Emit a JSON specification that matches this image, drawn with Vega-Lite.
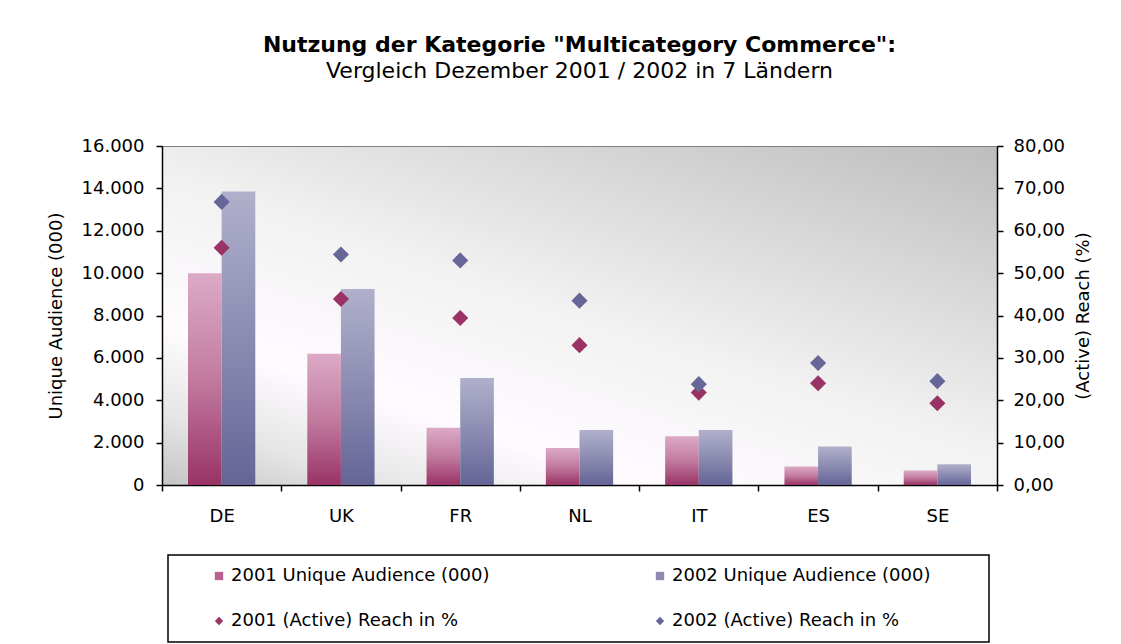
{
  "$schema": "https://vega.github.io/schema/vega-lite/v6.json",
  "autosize": {"type": "none"},
  "padding": {"left": 162, "top": 146, "right": 124, "bottom": 159},
  "width": 835,
  "height": 339,
  "background": "white",
  "title": {
    "text": "Nutzung der Kategorie \"Multicategory Commerce\":",
    "subtitle": "Vergleich Dezember 2001 / 2002 in 7 Ländern",
    "anchor": "middle",
    "frame": "group",
    "offset": 54,
    "font": "DejaVu Sans",
    "fontSize": 22,
    "fontWeight": "bold",
    "color": "#000000",
    "subtitleFont": "DejaVu Sans",
    "subtitleFontSize": 22,
    "subtitleFontWeight": "normal",
    "subtitleColor": "#000000",
    "subtitlePadding": 4
  },
  "config": {
    "locale": {"number": {"decimal": ",", "thousands": ".", "grouping": [3], "currency": ["", " €"]}},
    "view": {
      "stroke": "#808080",
      "strokeWidth": 1,
      "fill": {
        "gradient": "linear",
        "x1": 1, "y1": 0, "x2": 0.114, "y2": 1.093,
        "stops": [
          {"offset": 0, "color": "#bdbdbd"},
          {"offset": 0.25, "color": "#d8d8d8"},
          {"offset": 0.5, "color": "#f2f2f2"},
          {"offset": 0.74, "color": "#fffbff"},
          {"offset": 0.88, "color": "#e6e6e6"},
          {"offset": 1, "color": "#c4c4c4"}
        ]
      }
    },
    "axis": {
      "domainColor": "#000000",
      "domainWidth": 1.5,
      "tickColor": "#000000",
      "tickWidth": 1.5,
      "tickSize": 6,
      "labelColor": "#000000",
      "labelFont": "DejaVu Sans",
      "labelFontSize": 18,
      "titleColor": "#000000",
      "titleFont": "DejaVu Sans",
      "titleFontSize": 18,
      "titleFontWeight": "normal",
      "grid": false
    },
    "legend": {
      "titleOrient": "right",
      "titlePadding": 47,
      "titleFontSize": 18,
      "orient": "none",
      "legendX": 6,
      "legendY": 409,
      "direction": "horizontal",
      "columns": 2,
      "columnPadding": 131,
      "rowPadding": 27,
      "padding": 12,
      "strokeColor": "#000000",
      "strokeWidth": 1.5,
      "fillColor": "#ffffff",
      "labelFont": "DejaVu Sans",
      "labelFontSize": 18,
      "labelColor": "#000000",
      "labelLimit": 500,
      "labelOffset": 3,
      "symbolSize": 70,
      "symbolOffset": 30,
      "symbolStrokeWidth": 0,
      "symbolOpacity": 1
    }
  },
  "data": {
    "values": [
      {"country": "DE", "year": "2001", "audience": 10000, "reach": 56.0, "reachSeries": "2001 (Active) Reach in %"},
      {"country": "DE", "year": "2002", "audience": 13850, "reach": 66.8, "reachSeries": "2002 (Active) Reach in %"},
      {"country": "UK", "year": "2001", "audience": 6200, "reach": 43.9, "reachSeries": "2001 (Active) Reach in %"},
      {"country": "UK", "year": "2002", "audience": 9250, "reach": 54.4, "reachSeries": "2002 (Active) Reach in %"},
      {"country": "FR", "year": "2001", "audience": 2700, "reach": 39.4, "reachSeries": "2001 (Active) Reach in %"},
      {"country": "FR", "year": "2002", "audience": 5050, "reach": 53.0, "reachSeries": "2002 (Active) Reach in %"},
      {"country": "NL", "year": "2001", "audience": 1750, "reach": 33.0, "reachSeries": "2001 (Active) Reach in %"},
      {"country": "NL", "year": "2002", "audience": 2600, "reach": 43.5, "reachSeries": "2002 (Active) Reach in %"},
      {"country": "IT", "year": "2001", "audience": 2300, "reach": 21.8, "reachSeries": "2001 (Active) Reach in %"},
      {"country": "IT", "year": "2002", "audience": 2600, "reach": 23.8, "reachSeries": "2002 (Active) Reach in %"},
      {"country": "ES", "year": "2001", "audience": 870, "reach": 24.0, "reachSeries": "2001 (Active) Reach in %"},
      {"country": "ES", "year": "2002", "audience": 1820, "reach": 28.8, "reachSeries": "2002 (Active) Reach in %"},
      {"country": "SE", "year": "2001", "audience": 680, "reach": 19.3, "reachSeries": "2001 (Active) Reach in %"},
      {"country": "SE", "year": "2002", "audience": 980, "reach": 24.5, "reachSeries": "2002 (Active) Reach in %"}
    ]
  },
  "encoding": {
    "x": {
      "field": "country",
      "type": "nominal",
      "sort": ["DE", "UK", "FR", "NL", "IT", "ES", "SE"],
      "scale": {"paddingInner": 0, "paddingOuter": 0},
      "axis": {"title": null, "labelAngle": 0, "tickBand": "extent", "labelPadding": 16, "tickSize": 6}
    }
  },
  "layer": [
    {
      "mark": {"type": "bar", "opacity": 1},
      "encoding": {
        "xOffset": {"field": "year", "type": "nominal", "scale": {"domain": ["2001", "2002"], "paddingInner": 0, "paddingOuter": 0.773}},
        "y": {
          "field": "audience",
          "type": "quantitative",
          "scale": {"domain": [0, 16000], "nice": false},
          "axis": {"title": "Unique Audience (000)", "values": [0, 2000, 4000, 6000, 8000, 10000, 12000, 14000, 16000], "format": ",d", "labelPadding": 12, "titlePadding": 16}
        },
        "fill": {
          "condition": {
            "test": "datum.year === '2001'",
            "value": {
              "gradient": "linear", "x1": 0, "y1": 0, "x2": 0, "y2": 1,
              "stops": [{"offset": 0, "color": "#dcaac6"}, {"offset": 0.5, "color": "#c27b9f"}, {"offset": 1, "color": "#993366"}]
            }
          },
          "value": {
            "gradient": "linear", "x1": 0, "y1": 0, "x2": 0, "y2": 1,
            "stops": [{"offset": 0, "color": "#b0b0cc"}, {"offset": 0.5, "color": "#8c8cb2"}, {"offset": 1, "color": "#646497"}]
          }
        }
      }
    },
    {
      "mark": {"type": "point", "filled": true, "size": 260, "opacity": 1},
      "encoding": {
        "y": {
          "field": "reach",
          "type": "quantitative",
          "scale": {"domain": [0, 80], "nice": false},
          "axis": {"orient": "right", "title": "(Active) Reach (%)", "titleAngle": 270, "values": [0, 10, 20, 30, 40, 50, 60, 70, 80], "format": ".2f", "labelPadding": 10, "titlePadding": 28}
        },
        "fill": {
          "field": "reachSeries",
          "type": "nominal",
          "scale": {
            "domain": ["2001 Unique Audience (000)", "2002 Unique Audience (000)", "2001 (Active) Reach in %", "2002 (Active) Reach in %"],
            "range": ["#b8628f", "#8a8ab2", "#993366", "#666699"]
          },
          "legend": {"title": "\u00a0"}
        },
        "shape": {
          "field": "reachSeries",
          "type": "nominal",
          "scale": {
            "domain": ["2001 Unique Audience (000)", "2002 Unique Audience (000)", "2001 (Active) Reach in %", "2002 (Active) Reach in %"],
            "range": ["square", "square", "diamond", "diamond"]
          },
          "legend": {"title": "\u00a0"}
        }
      }
    }
  ],
  "resolve": {"scale": {"y": "independent"}}
}
